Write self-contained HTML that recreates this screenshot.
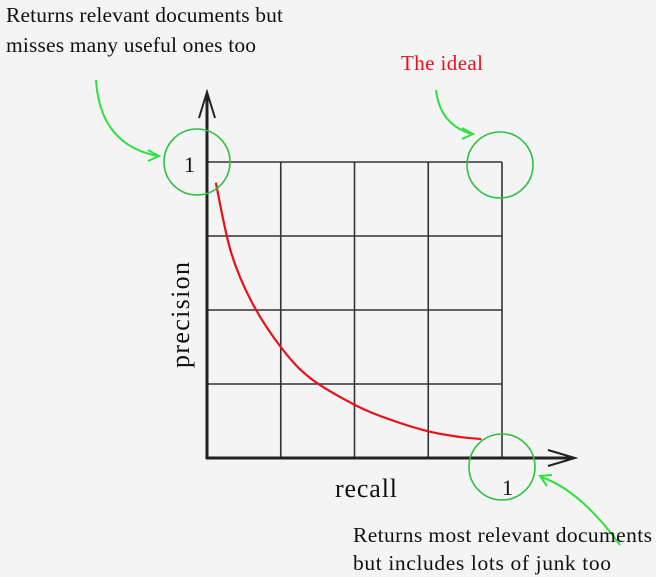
<!DOCTYPE html>
<html><head><meta charset="utf-8"><style>
body{margin:0;background:#f4f4f4;}
svg{display:block;font-family:"Liberation Serif",serif;}
</style></head><body>
<svg width="656" height="577" viewBox="0 0 656 577">
<rect width="656" height="577" fill="#f4f4f4"/>
<g id="grid" stroke="#333" stroke-width="1.6" fill="none"></g>
<g stroke="#222" stroke-width="3" fill="none">
<line x1="207" y1="459" x2="207" y2="95"/>
<polyline points="199,118 207,92 215,118" stroke-width="2"/>
<line x1="206" y1="458" x2="573" y2="458"/>
<polyline points="548,450 575,458 548,466" stroke-width="2"/>
</g>
<path id="curve" fill="none" stroke="#e8101a" stroke-width="2.2"/>
<g stroke="#2fc040" stroke-width="1.6" fill="none">
<circle cx="197" cy="162" r="33"/>
<circle cx="500" cy="165" r="33"/>
<circle cx="502" cy="467" r="33"/>
</g>
<g stroke="#2fe040" stroke-width="2" fill="none">
<path d="M96,80 Q100,145 158,156"/><polyline points="148,150 159,156 148,161"/>
<path d="M436,90 Q440,125 472,134"/><polyline points="462,128 473,134 462,139"/>
<path d="M620,545 Q580,490 541,477"/><polyline points="547,486 540,476 552,475"/>
</g>
<text x="184" y="172" font-size="22" fill="#111">1</text>
<text x="502" y="495" font-size="22" fill="#111">1</text>
<text x="335" y="497" font-size="26" textLength="62" fill="#111">recall</text>
<text transform="translate(189,315) rotate(-90)" text-anchor="middle" font-size="26" textLength="106" fill="#111">precision</text>
<text x="401" y="70" font-size="21" textLength="82" fill="#e8101a">The ideal</text>
<text font-size="21.5" fill="#111"><tspan x="6" y="22" textLength="277">Returns relevant documents but</tspan><tspan x="6" y="52" textLength="250">misses many useful ones too</tspan></text>
<text font-size="21.5" fill="#111"><tspan x="353" y="542" textLength="299">Returns most relevant documents</tspan><tspan x="353" y="570" textLength="258">but includes lots of junk too</tspan></text>
</svg>
<script>
const gridTicks=[0,0.25,0.5,0.75,1];
const recall=[0.03,0.08,0.15,0.25,0.35,0.5,0.62,0.75,0.85,0.93];
const precision=[0.93,0.7,0.53,0.375,0.27,0.18,0.13,0.09,0.072,0.064];
const X0=207,X1=502,Y0=458,Y1=162;
const sx=v=>X0+v*(X1-X0), sy=v=>Y0-v*(Y0-Y1);
const g=document.getElementById('grid');
const ns='http://www.w3.org/2000/svg';
gridTicks.forEach(t=>{
  const v=document.createElementNS(ns,'line');
  v.setAttribute('x1',sx(t));v.setAttribute('x2',sx(t));v.setAttribute('y1',sy(0));v.setAttribute('y2',sy(1));
  
  
  g.appendChild(v);
  const h=document.createElementNS(ns,'line');
  h.setAttribute('y1',sy(t));h.setAttribute('y2',sy(t));h.setAttribute('x1',sx(0));h.setAttribute('x2',sx(1));
  
  
  g.appendChild(h);
});
const pts=recall.map((r,i)=>[sx(r),sy(precision[i])]);
let d='M'+pts[0][0]+','+pts[0][1];
for(let i=0;i<pts.length-1;i++){
  const p0=pts[i-1]||pts[i],p1=pts[i],p2=pts[i+1],p3=pts[i+2]||p2;
  const c1=[p1[0]+(p2[0]-p0[0])/6,p1[1]+(p2[1]-p0[1])/6];
  const c2=[p2[0]-(p3[0]-p1[0])/6,p2[1]-(p3[1]-p1[1])/6];
  d+=' C'+c1+' '+c2+' '+p2;
}
document.getElementById('curve').setAttribute('d',d);
</script>
</body></html>
